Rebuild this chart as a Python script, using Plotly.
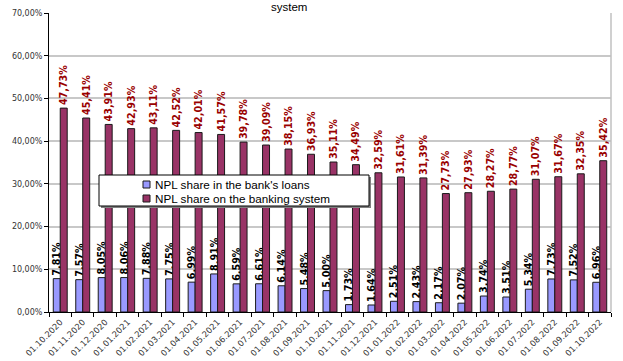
import plotly.graph_objects as go

categories = ["01.10.2020", "01.11.2020", "01.12.2020", "01.01.2021", "01.02.2021",
              "01.03.2021", "01.04.2021", "01.05.2021", "01.06.2021", "01.07.2021",
              "01.08.2021", "01.09.2021", "01.10.2021", "01.11.2021", "01.12.2021",
              "01.01.2022", "01.02.2022", "01.03.2022", "01.04.2022", "01.05.2022",
              "01.06.2022", "01.07.2022", "01.08.2022", "01.09.2022", "01.10.2022"]

bank_npl = [7.81, 7.57, 8.05, 8.06, 7.88, 7.75, 6.99, 8.91, 6.59, 6.61, 6.14, 5.48, 5.00,
            1.73, 1.64, 2.51, 2.43, 2.17, 2.07, 3.74, 3.51, 5.34, 7.73, 7.52, 6.96]

system_npl = [47.73, 45.41, 43.91, 42.93, 43.11, 42.52, 42.01, 41.57, 39.78, 39.09, 38.15,
              36.93, 35.11, 34.49, 32.59, 31.61, 31.39, 27.73, 27.93, 28.27, 28.77, 31.07,
              31.67, 32.35, 35.42]

y_ticks = [0, 10, 20, 30, 40, 50, 60, 70]
y_tick_text = [f"{v:.2f}%".replace(".", ",") for v in y_ticks]

series_names = ["NPL share in the bank's loans", "NPL share on the banking system"]
series_colors = ["#9999FF", "#993366"]

# plot area in pixels: x 49..611, y 13..312
PX0, PX1, PY0, PY1 = 49, 611, 312, 13


def px(x):
    return (x - PX0) / (PX1 - PX0)


def py(y):
    return (PY0 - y) / (PY0 - PY1)


fig = go.Figure()
fig.add_trace(go.Bar(
    x=categories, y=bank_npl, name=series_names[0],
    marker=dict(color=series_colors[0], line=dict(color="#1a1a1a", width=1)),
    texttemplate="%{y:.2f}%", textposition="outside", textangle=-90,
    constraintext="none", cliponaxis=False,
    textfont=dict(family="DejaVu Sans", size=9.6, color="#000000", weight="bold"),
))
fig.add_trace(go.Bar(
    x=categories, y=system_npl, name=series_names[1],
    marker=dict(color=series_colors[1], line=dict(color="#1a1a1a", width=1)),
    texttemplate="%{y:.2f}%", textposition="outside", textangle=-90,
    constraintext="none", cliponaxis=False,
    textfont=dict(family="DejaVu Sans", size=9.6, color="#990000", weight="bold"),
))

shapes = [
    # legend shadow and box
    dict(type="rect", xref="paper", yref="paper",
         x0=px(101), x1=px(371), y0=py(208), y1=py(177),
         fillcolor="#808080", line=dict(width=0), layer="above"),
    dict(type="rect", xref="paper", yref="paper",
         x0=px(99), x1=px(369), y0=py(206), y1=py(175),
         fillcolor="white", line=dict(color="#000000", width=1), layer="above"),
    # right border of plot area
    dict(type="line", xref="paper", yref="paper", x0=1, x1=1, y0=0, y1=1,
         line=dict(color="#c0c0c0", width=1.5)),
]
annotations = [
    dict(text="system", xref="paper", yref="paper", x=px(289), y=py(0),
         xanchor="center", yanchor="top", showarrow=False, borderpad=0,
         font=dict(family="Liberation Sans", size=11.5, color="#000000")),
]
row_y = [184.5, 198.5]
for name, color, ry in zip(series_names, series_colors, row_y):
    shapes.append(dict(type="rect", xref="paper", yref="paper",
                       x0=px(143), x1=px(150), y0=py(ry + 3.5), y1=py(ry - 3.5),
                       fillcolor=color, line=dict(color="#1a1a1a", width=1), layer="above"))
    annotations.append(dict(text=name, xref="paper", yref="paper", x=px(153), y=py(ry),
                            xanchor="left", yanchor="middle", showarrow=False,
                            font=dict(family="Liberation Sans", size=11.7, color="#000000")))

fig.update_layout(
    width=623, height=361,
    margin=dict(l=PX0, r=623 - PX1, t=PY1, b=361 - PY0, autoexpand=False),
    paper_bgcolor="white", plot_bgcolor="white",
    separators=", ",
    barmode="group", bargap=0.38, bargroupgap=0.0,
    showlegend=False,
    shapes=shapes,
    annotations=annotations,
)

fig.update_xaxes(
    type="category", tickangle=-45, automargin=False,
    tickfont=dict(family="DejaVu Sans", size=8.4, color="#333333"),
    showline=True, linecolor="#000000", linewidth=1,
    ticks="outside", tickson="boundaries", ticklen=4, tickcolor="#000000",
    ticklabelstandoff=1,
    showgrid=False,
)
fig.update_yaxes(
    range=[0, 70], tickmode="array", tickvals=y_ticks, ticktext=y_tick_text,
    automargin=False,
    tickfont=dict(family="DejaVu Sans", size=8, color="#333333"),
    showline=True, linecolor="#000000", linewidth=1,
    ticks="outside", ticklen=4, tickcolor="#000000",
    showgrid=True, gridcolor="#c8c8c8", gridwidth=1.5,
    zeroline=False,
)

fig.write_html("out.html")
